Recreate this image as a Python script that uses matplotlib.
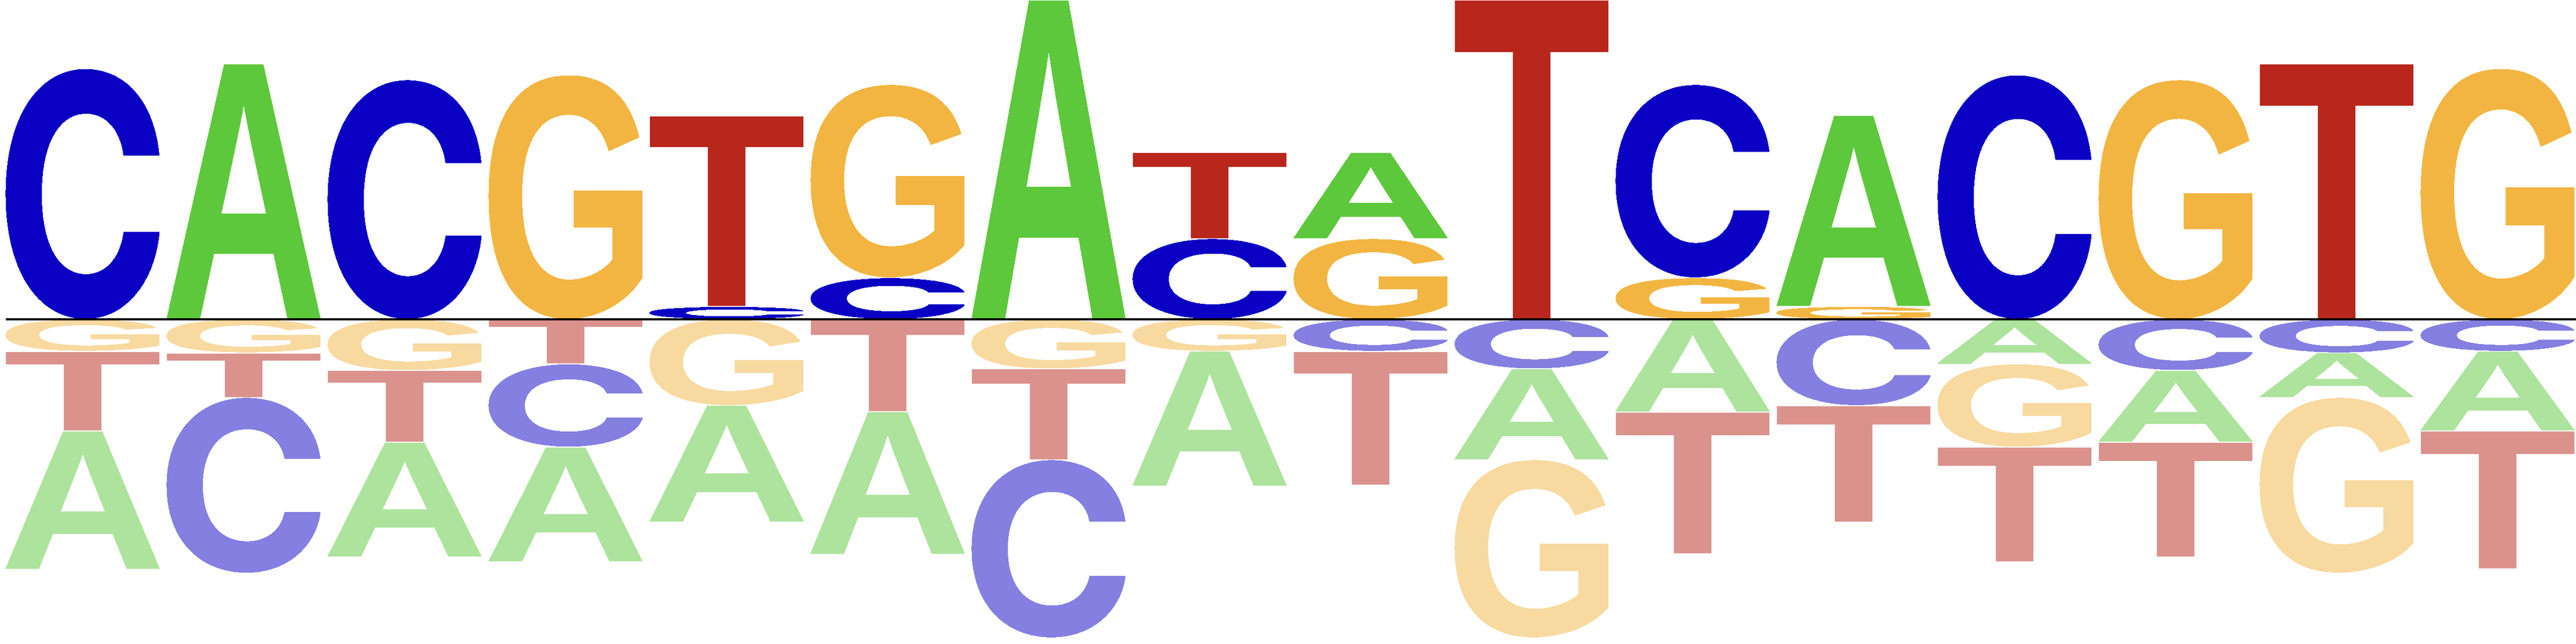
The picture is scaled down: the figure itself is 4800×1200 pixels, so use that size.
import matplotlib
matplotlib.use('Agg')
import matplotlib.pyplot as plt
from matplotlib.textpath import TextPath
from matplotlib.patches import PathPatch
from matplotlib.font_manager import FontProperties
from matplotlib.transforms import Affine2D

# Hauteurs par position (positif au-dessus de la ligne, négatif en dessous)
bases = ['A', 'C', 'G', 'T']
A = [-0.865, 1.60, -0.72, -0.72, -0.73, -0.89, 2.00, -0.845, 0.54, -0.57, -0.58, 1.195, -0.28, -0.45, -0.28, -0.50]
C = [1.57, -1.10, 1.50, -0.52, 0.08, 0.26, -1.115, 0.505, -0.20, -0.31, 1.21, -0.54, 1.53, -0.32, -0.21, -0.20]
G = [-0.20, -0.21, -0.32, 1.53, -0.54, 1.21, -0.31, -0.20, 0.505, -1.115, 0.26, 0.08, -0.52, 1.50, -1.10, 1.57]
T = [-0.50, -0.28, -0.45, -0.28, 1.195, -0.58, -0.57, 0.54, -0.84, 2.00, -0.89, -0.73, -0.72, -0.72, 1.60, -0.865]

colors = {'A': '#5dc83b', 'C': '#0a00c4', 'G': '#f3b541', 'T': '#b9261c'}

# C pris dans Inter (terminaisons horizontales), le reste en Liberation Sans
fonts = {'A': 'Liberation Sans', 'C': 'Inter', 'G': 'Liberation Sans', 'T': 'Liberation Sans'}


def draw_letter(ax, ch, x, y, w, h, color, alpha):
    fp = FontProperties(family=fonts[ch], weight='bold')
    path = TextPath((0, 0), ch, size=1, prop=fp)
    ext = path.get_extents()
    tr = (Affine2D().translate(-ext.x0, -ext.y0)
          .scale(w / ext.width, h / ext.height).translate(x, y))
    ax.add_patch(PathPatch(tr.transform_path(path), facecolor=color,
                           edgecolor='none', alpha=alpha, antialiased=False))


fig = plt.figure(figsize=(48, 12), dpi=100)
ax = fig.add_axes([0, 0, 1, 1])

width = 0.953
pad = 0.004
vals = {'A': A, 'C': C, 'G': G, 'T': T}
for i in range(len(A)):
    col = [(b, vals[b][i]) for b in bases]
    pos = sorted([c for c in col if c[1] > 0], key=lambda c: c[1])
    neg = sorted([c for c in col if c[1] < 0], key=lambda c: -c[1])
    y = 0
    for b, v in pos:
        draw_letter(ax, b, i - width / 2, y + pad, width, v - 2 * pad, colors[b], 1.0)
        y += v
    y = 0
    for b, v in neg:
        draw_letter(ax, b, i - width / 2, y + v + pad, width, -v - 2 * pad, colors[b], 0.5)
        y += v

ax.plot([-width / 2, 15.6], [0, 0], color='black', lw=2.9, solid_capstyle='butt', zorder=5)

ax.set_xlim(-0.513, 15.487)
ax.set_ylim(-2.034, 2.0)
ax.axis('off')

fig.savefig('out.png', dpi=100)
